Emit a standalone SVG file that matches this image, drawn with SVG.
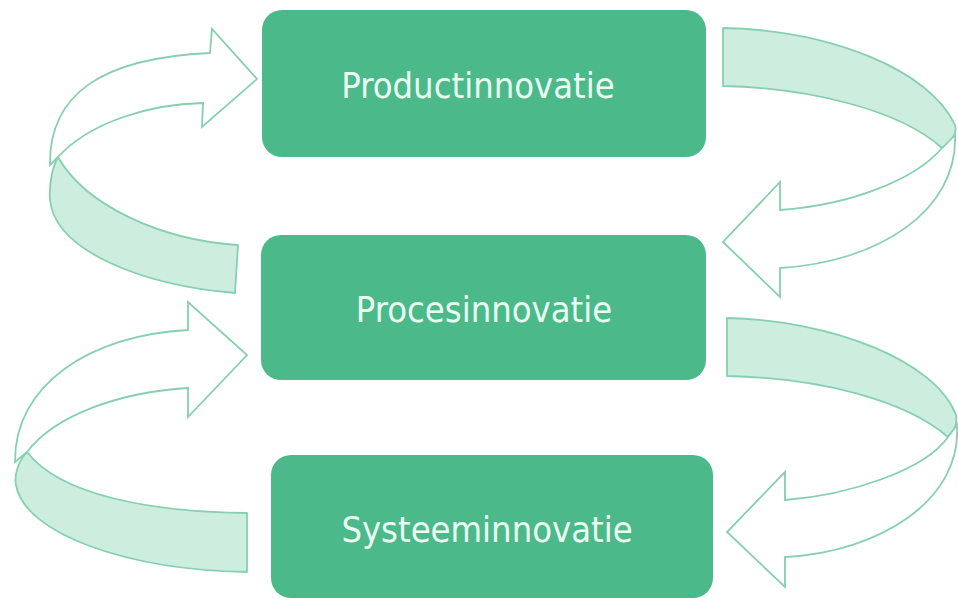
<svg xmlns="http://www.w3.org/2000/svg" width="958" height="600" viewBox="0 0 958 600">
<style>
.bg{fill:#ffffff}
.box{fill:#4bb98a}
.lbl{fill:#eafff2;font-family:"DejaVu Sans Condensed","DejaVu Sans",sans-serif;font-stretch:condensed;font-size:36px;text-anchor:middle}
.back{fill:#cdeedf;stroke:#86cfb0;stroke-width:1.8;stroke-linejoin:round}
.front{fill:#ffffff;stroke:#86cfb0;stroke-width:1.8;stroke-linejoin:miter}
</style>
<rect class="bg" x="0" y="0" width="958" height="600"/>
<g id="connectors">
  <g id="arrow-top-left">
    <path class="back" d="M58,157 C85,205 160,240 238,245 L235,293 C140,285 55,250 50,200 C49,185 52,168 58,157 Z"/>
    <path class="front" d="M50,165 C49,95 100,58 210,53 L212,29 L257,79 L202,127 L203,103 C150,104 90,122 58,157 Z"/>
  </g>
  <g id="arrow-bottom-left">
    <path class="back" d="M27,452 C60,495 150,512 247,513 L247,572 C130,570 25,535 16,485 C14,475 18,462 27,452 Z"/>
    <path class="front" d="M15,462 C14,385 90,335 188,330 L188,302 L247,355 L188,417 L188,388 C120,392 55,415 27,452 Z"/>
  </g>
  <g id="arrow-top-right">
    <path class="back" d="M723,28 C830,30 930,70 955,125 C958,135 950,142 942,148 C900,110 810,88 723,86 Z"/>
    <path class="front" d="M955,135 C958,210 880,262 780,268 L780,297 L723,242 L780,182 L780,210 C850,205 915,180 942,148 Z"/>
  </g>
  <g id="arrow-bottom-right">
    <path class="back" d="M727,318 C830,320 935,360 956,415 C958,425 953,432 948,437 C905,400 820,378 727,376 Z"/>
    <path class="front" d="M957,425 C962,500 880,552 785,557 L785,587 L727,532 L785,472 L785,500 C850,495 925,470 948,437 Z"/>
  </g>
</g>
<g id="node-product">
  <rect class="box" x="262" y="10" width="444" height="147" rx="20"/>
  <text class="lbl" x="478" y="98">Productinnovatie</text>
</g>
<g id="node-proces">
  <rect class="box" x="261" y="235" width="445" height="145" rx="20"/>
  <text class="lbl" x="484" y="322">Procesinnovatie</text>
</g>
<g id="node-systeem">
  <rect class="box" x="271" y="455" width="442" height="143" rx="20"/>
  <text class="lbl" x="487" y="542">Systeeminnovatie</text>
</g>
</svg>
